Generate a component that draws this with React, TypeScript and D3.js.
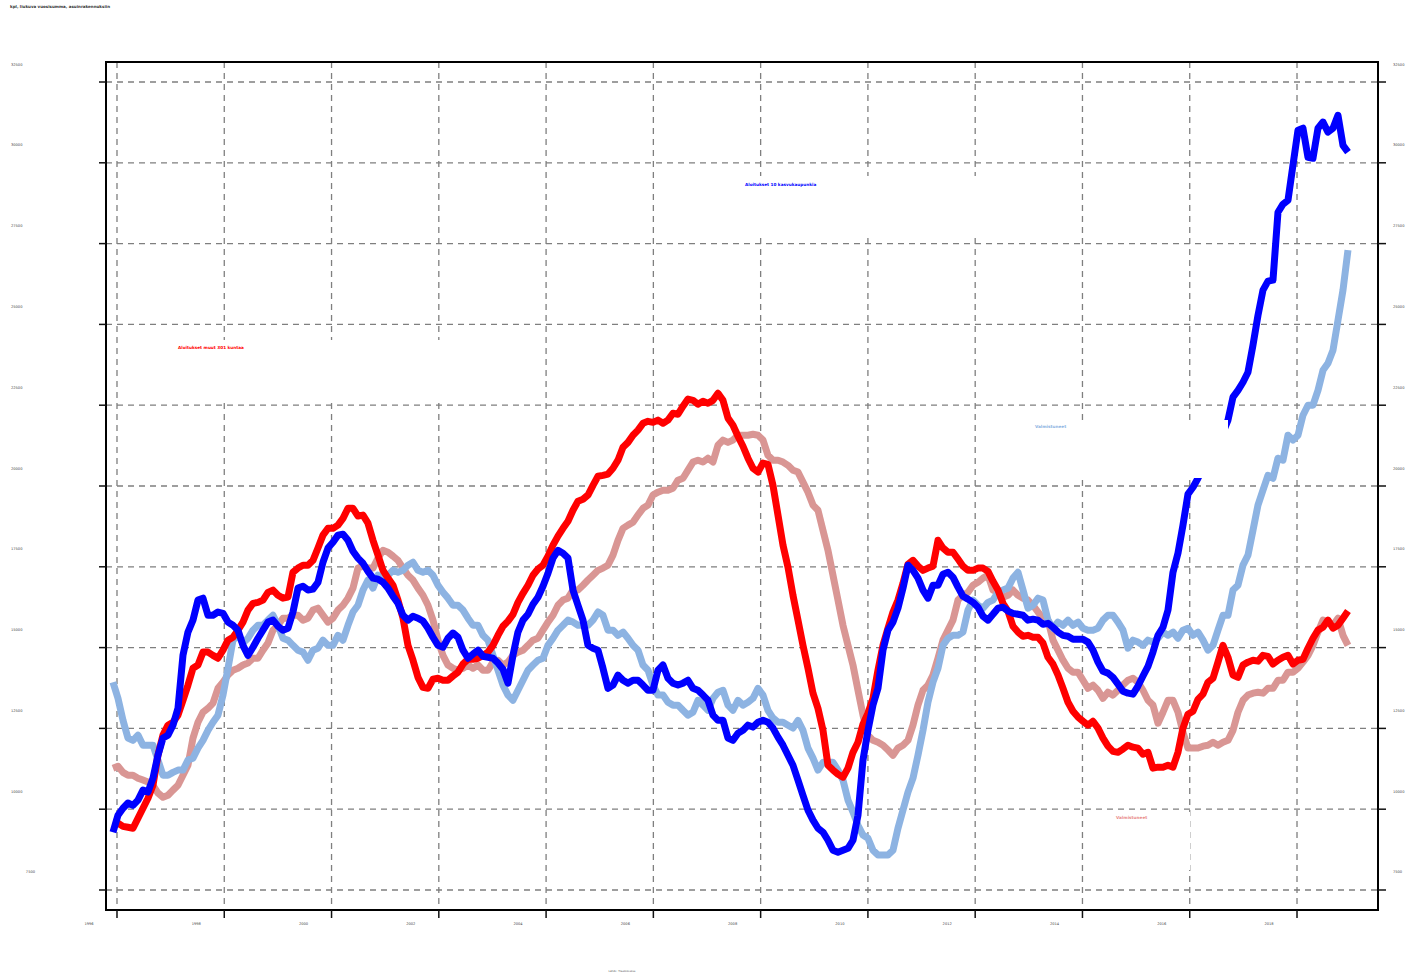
import React from "react";
import * as d3 from "d3";

// Sample grid: one value every STEP years, starting at START
const START = 1995.925;
const STEP = 0.09322;

const aloitukset10: number[] = [
  9290, 9810, 10030, 10190, 10120, 10280, 10590, 10530, 10960, 11670,
  12200, 12290, 12600, 13120, 14760, 15480, 15850, 16470, 16530, 16000,
  16000, 16100, 16060, 15790, 15690, 15540, 15070, 14760, 15010, 15290,
  15540, 15790, 15850, 15660, 15540, 15600, 16100, 16840, 16900, 16780,
  16810, 17020, 17640, 18080, 18260, 18480, 18510, 18320, 17980, 17770,
  17610, 17360, 17150, 17120, 17020, 16840, 16590, 16370, 16000, 15850,
  15970, 15910, 15820, 15600, 15320, 15070, 15010, 15290, 15450, 15320,
  14920, 14670, 14800, 14920, 14730, 14700, 14670, 14520, 14330, 13900,
  14760, 15480, 15850, 16030, 16340, 16560, 16900, 17300, 17770, 18010,
  17920, 17770, 16780, 16310, 15850, 15070, 14980, 14920, 14360, 13740,
  13840, 14150, 13990, 13900, 13990, 13990, 13840, 13680, 13680, 14300,
  14460, 14050, 13900, 13840, 13900, 13990, 13740, 13680, 13530, 13370,
  12910, 12750, 12750, 12200, 12130, 12350, 12440, 12600, 12540, 12690,
  12750, 12690, 12510, 12230, 11980, 11670, 11360, 10900, 10430, 9970,
  9660, 9410, 9290, 9040, 8730, 8670, 8730, 8790, 9040, 9810,
  11520, 12440, 13220, 13740, 14920, 15540, 15790, 16220, 16840, 17550,
  17390, 17150, 16780, 16530, 16930, 16930, 17270, 17330, 17180, 16870,
  16590, 16500, 16400, 16250, 15970, 15850, 16030, 16220, 16250, 16130,
  16060, 16030, 16000, 15850, 15880, 15850, 15720, 15750, 15630, 15480,
  15380, 15350, 15260, 15260, 15260, 15170, 14920, 14550, 14270, 14210,
  14080, 13870, 13650, 13590, 13560, 13810, 14120, 14420, 14860, 15380,
  15630, 16160, 17330, 17920, 18790, 19750, 19960, 20240, 20550, 20740,
  21110, 21420, 21660, 22040, 22750, 22960, 23210, 23520, 24360, 25280,
  26060, 26340, 26370, 28470, 28720, 28840, 29930, 31010, 31070, 30170,
  30140, 31070, 31260, 30950, 31070, 31470, 30540, 30330,
];

const aloitukset301: number[] = [
  9600, 9570, 9470, 9440, 9410, 9720, 10030, 10340, 10740, 11670,
  12290, 12600, 12690, 12910, 13370, 13840, 14360, 14460, 14860, 14860,
  14760, 14670, 14920, 15230, 15320, 15540, 15790, 16160, 16370, 16400,
  16470, 16710, 16780, 16620, 16530, 16560, 17330, 17460, 17550, 17550,
  17700, 18080, 18480, 18690, 18690, 18790, 19000, 19310, 19310, 19070,
  19100, 18850, 18320, 17860, 17390, 17150, 16930, 16470, 15910, 15070,
  14610, 14080, 13770, 13740, 14020, 14050, 13990, 13990, 14120, 14240,
  14490, 14640, 14640, 14670, 14760, 14860, 15070, 15380, 15660, 15820,
  16030, 16400, 16680, 16930, 17240, 17430, 17550, 17830, 18170, 18450,
  18690, 18910, 19250, 19530, 19590, 19720, 20020, 20300, 20330, 20370,
  20550, 20800, 21200, 21350, 21570, 21730, 21940, 22000, 21970, 22040,
  21940, 22040, 22250, 22220, 22470, 22690, 22650, 22530, 22620, 22560,
  22650, 22870, 22650, 22100, 21880, 21540, 21230, 20860, 20550, 20430,
  20710, 20670, 20020, 19100, 18170, 17490, 16620, 15850, 15070, 14360,
  13590, 13120, 12440, 11360, 11210, 11080, 10990, 11270, 11760, 12070,
  12630, 12970, 13430, 14300, 15070, 15600, 16100, 16470, 16990, 17580,
  17700, 17520, 17390, 17460, 17520, 18320, 18080, 17950, 17950, 17740,
  17520, 17390, 17390, 17460, 17460, 17360, 17050, 16780, 16370, 16130,
  15660, 15480, 15350, 15380, 15320, 15320, 15140, 14700, 14490, 14150,
  13740, 13310, 13030, 12850, 12720, 12600, 12720, 12510, 12200, 11950,
  11790, 11760, 11860, 11980, 11920, 11890, 11700, 11760, 11270, 11300,
  11300, 11360, 11300, 11760, 12510, 12940, 13030, 13400, 13560, 13930,
  14050, 14550, 15070, 14700, 14150, 14080, 14460, 14550, 14610, 14580,
  14760, 14730, 14490, 14610, 14700, 14760, 14490, 14610, 14640, 14980,
  15290, 15540, 15630, 15850, 15600, 15690, 15910, 16130,
];

const valmistuneet10: number[] = [
  13930, 13430, 12750, 12200, 12130, 12290, 11980, 11980, 11980, 11520,
  11050, 11050, 11140, 11210, 11210, 11520, 11580, 11890, 12130, 12440,
  12690, 12910, 13530, 14360, 15230, 15380, 15140, 15290, 15540, 15690,
  15690, 15850, 16000, 15690, 15290, 15230, 15070, 14920, 14860, 14610,
  14920, 14980, 15230, 15070, 15070, 15380, 15230, 15690, 16100, 16310,
  16780, 17090, 16840, 17240, 17150, 17240, 17390, 17330, 17390, 17550,
  17640, 17390, 17330, 17390, 17240, 16930, 16710, 16530, 16310, 16310,
  16160, 15910, 15690, 15690, 15380, 15230, 14760, 14300, 13840, 13530,
  13370, 13680, 13990, 14300, 14460, 14610, 14670, 15070, 15290, 15540,
  15690, 15850, 15790, 15690, 15690, 15690, 15850, 16100, 16000, 15540,
  15540, 15380, 15480, 15290, 15070, 14920, 14460, 14300, 13840, 13530,
  13530, 13310, 13220, 13220, 13060, 12910, 13000, 13370, 13220, 13060,
  13430, 13620, 13680, 13220, 13060, 13370, 13220, 13310, 13430, 13740,
  13530, 13060, 12820, 12690, 12690, 12600, 12510, 12750, 12440, 11890,
  11580, 11210, 11450, 11450, 11450, 11210, 10900, 10280, 9910, 9500,
  9200, 9100, 8730, 8580, 8580, 8580, 8730, 9410, 9970, 10530,
  10960, 11670, 12440, 13310, 13930, 14360, 15070, 15290, 15380, 15380,
  15480, 16160, 16470, 16310, 16220, 16400, 16470, 16710, 16780, 16840,
  17150, 17330, 16780, 16220, 16310, 16530, 16470, 15850, 15600, 15790,
  15690, 15850, 15690, 15790, 15600, 15540, 15540, 15600, 15850, 16000,
  16000, 15790, 15540, 14980, 15230, 15170, 15070, 15230, 15170, 15290,
  15480, 15380, 15480, 15290, 15540, 15600, 15380, 15480, 15230, 14920,
  15070, 15540, 16000, 16000, 16780, 16930, 17550, 17860, 18630, 19410,
  19870, 20330, 20240, 20860, 20800, 21570, 21420, 21570, 22190, 22500,
  22500, 22960, 23580, 23800, 24200, 25130, 26060, 27300,
];

const valmistuneet301: number[] = [
  11270, 11330, 11140, 11050, 11050, 10960, 10900, 10840, 10740, 10500,
  10370, 10430, 10590, 10740, 11050, 11360, 12200, 12690, 13000, 13120,
  13280, 13740, 13930, 14150, 14300, 14360, 14460, 14520, 14670, 14670,
  14920, 15140, 15540, 15690, 15910, 15910, 16000, 16000, 15850, 15910,
  16160, 16220, 16000, 15790, 15910, 16160, 16310, 16530, 16840, 17460,
  17520, 17460, 17460, 17770, 18010, 17950, 17830, 17700, 17460, 17240,
  17090, 16840, 16620, 16310, 15850, 15230, 14760, 14460, 14360, 14300,
  14360, 14460, 14360, 14460, 14300, 14300, 14550, 14610, 14460, 14550,
  14760, 14860, 14920, 15070, 15230, 15290, 15540, 15790, 16000, 16310,
  16470, 16530, 16780, 16780, 16930, 17090, 17240, 17390, 17460, 17550,
  17860, 18320, 18690, 18790, 18880, 19100, 19310, 19410, 19720, 19810,
  19870, 19870, 19930, 20180, 20240, 20490, 20740, 20800, 20740, 20860,
  20740, 21260, 21420, 21350, 21420, 21570, 21570, 21570, 21600, 21570,
  21420, 20950, 20800, 20800, 20740, 20640, 20490, 20430, 20120, 19810,
  19410, 19250, 18630, 18010, 17240, 16470, 15690, 15070, 14460, 13680,
  12910, 12290, 12130, 12070, 11980, 11830, 11670, 11890, 11980, 12130,
  12600, 13220, 13680, 13840, 14150, 14670, 15230, 15540, 15850, 16470,
  16620, 16710, 16930, 17020, 17150, 17240, 16780, 16710, 16560, 16620,
  16780, 16620, 16530, 16470, 16310, 16100, 15910, 15850, 15230, 14920,
  14610, 14360, 14240, 14240, 13990, 13740, 13840, 13680, 13430, 13620,
  13530, 13680, 13840, 13990, 14050, 13930, 13680, 13370, 13220, 12660,
  13000, 13370, 13370, 13000, 12380, 11890, 11890, 11890, 11950, 11980,
  12070, 11980, 12070, 12130, 12440, 13000, 13370, 13530, 13590, 13620,
  13590, 13740, 13740, 13990, 13990, 14240, 14240, 14360, 14550, 14760,
  15070, 15480, 15850, 15790, 15690, 15910, 15380, 15070,
];

const xTickYears = [1996, 1998, 2000, 2002, 2004, 2006, 2008, 2010, 2012, 2014, 2016, 2018];
const yTickValues = [7500, 10000, 12500, 15000, 17500, 20000, 22500, 25000, 27500, 30000, 32500];

const TITLE = "kpl, liukuva vuosisumma, asuinrakennuksiin";
const CAPTION = "Lähde: Tilastokeskus";

const seriesDefs = [
  { name: "Valmistuneet", data: valmistuneet301, color: "#d99694" },
  { name: "Valmistuneet", data: valmistuneet10, color: "#8db3e2" },
  { name: "Aloitukset muut 301 kuntaa", data: aloitukset301, color: "#ff0000" },
  { name: "Aloitukset 10 kasvukaupunkia", data: aloitukset10, color: "#0000ff" },
];

const W = 1406;
const H = 973;
const L = 106, R = 1378, T = 62, B = 910;

export default function App() {
  const x = d3.scaleLinear().domain([1995.795, 2019.51]).range([L, R]);
  const y = d3.scaleLinear().domain([6881, 33119]).range([B, T]);

  const line = d3
    .line<number>()
    .x((_, i) => x(START + i * STEP))
    .y((d) => y(d))
    .curve(d3.curveLinear);

  const font = "'DejaVu Sans', 'Liberation Sans', sans-serif";
  const grid = "#7f7f7f";

  const labels = [
    { text: "Aloitukset muut 301 kuntaa", color: "#ff0000", xv: 1997.137, yv: 24254, box: [160, 340, 385, 60] },
    { text: "Aloitukset 10 kasvukaupunkia", color: "#0000ff", xv: 2007.709, yv: 29297, box: [740, 176, 340, 60] },
    { text: "Valmistuneet", color: "#8db3e2", xv: 2013.115, yv: 21810, box: [1030, 420, 198, 58] },
    { text: "Valmistuneet", color: "#e98c8a", xv: 2014.626, yv: 9712, box: [1110, 812, 80, 58] },
  ];

  return (
    <svg width={W} height={H} style={{ display: "block", position: "absolute", left: 0, top: 0, background: "#fff" }}>
      <rect x={0} y={0} width={W} height={H} fill="#fff" />
      <text x={10} y={7.5} fontSize={4} fontWeight="bold" fontFamily={font} fill="#333">{TITLE}</text>

      {/* grid */}
      {yTickValues.map((v) => (
        <line key={"gy" + v} x1={L} x2={R} y1={y(v)} y2={y(v)} stroke={grid} strokeWidth={1.3} strokeDasharray="6,5" />
      ))}
      {xTickYears.map((t) => (
        <line key={"gx" + t} x1={x(t)} x2={x(t)} y1={T} y2={B} stroke={grid} strokeWidth={1.3} strokeDasharray="6,5" />
      ))}

      {/* series */}
      {seriesDefs.map((s, k) => (
        <path key={k} d={line(s.data) || ""} fill="none" stroke={s.color} strokeWidth={7} strokeLinejoin="round" strokeLinecap="butt" />
      ))}

      {/* label boxes */}
      {labels.map((lb, k) => (
        <g key={"lb" + k}>
          <rect x={lb.box[0]} y={lb.box[1]} width={lb.box[2]} height={lb.box[3]} fill="#fff" />
          <text x={x(lb.xv)} y={y(lb.yv)} fontSize={4.2} fontWeight="bold" fontFamily={font} fill={lb.color}>{lb.text}</text>
        </g>
      ))}

      {/* frame */}
      <rect x={L} y={T} width={R - L} height={B - T} fill="none" stroke="#000" strokeWidth={2} />

      {/* y ticks */}
      {yTickValues.map((v) => (
        <g key={"ty" + v}>
          <line x1={L - 7} x2={L} y1={y(v)} y2={y(v)} stroke="#111" strokeWidth={1.5} />
          <line x1={R} x2={R + 8} y1={y(v)} y2={y(v)} stroke="#111" strokeWidth={1.5} />
          <text x={v === 7500 ? 35 : 11} y={y(v) - 16.5} fontSize={3.6} textAnchor={v === 7500 ? "end" : "start"} fontFamily={font} fill="#444">{v}</text>
          <text x={1393} y={y(v) - 16.5} fontSize={3.6} fontFamily={font} fill="#444">{v}</text>
        </g>
      ))}

      {/* x ticks */}
      {xTickYears.map((t) => (
        <g key={"tx" + t}>
          <line x1={x(t)} x2={x(t)} y1={B} y2={B + 8} stroke="#111" strokeWidth={1.5} />
          <text x={x(t) - 28} y={924.5} fontSize={3.6} textAnchor="middle" fontFamily={font} fill="#444">{t}</text>
        </g>
      ))}

      <text x={622} y={971.5} fontSize={2.6} textAnchor="middle" fontFamily={font} fill="#555">{CAPTION}</text>
    </svg>
  );
}
